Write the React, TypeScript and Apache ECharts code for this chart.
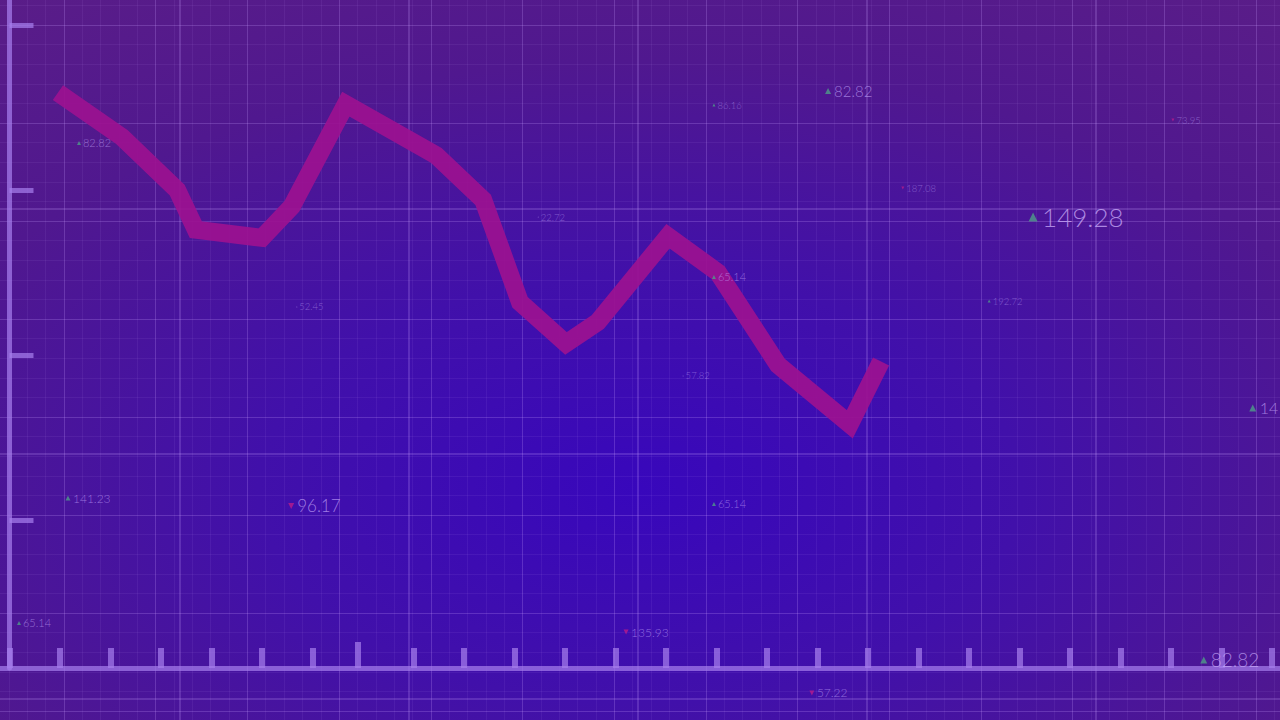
import React, { useEffect, useRef } from "react";
import * as echarts from "echarts";

// Main line (x: tick index along bottom axis, y: units of left-axis tick spacing)
const LINE_X = [0.96, 2.23, 3.32, 3.69, 5.0, 5.59, 6.66, 8.45, 9.38, 10.11, 11.02, 11.65, 13.04, 14.03, 15.22, 16.64, 17.26];
const LINE_Y = [3.59, 3.32, 3.0, 2.76, 2.71, 2.9, 3.52, 3.21, 2.94, 2.32, 2.07, 2.2, 2.72, 2.5, 1.94, 1.58, 1.96];

const X_TICKS = [0, 1, 2, 3, 4, 5, 6, 8, 9, 10, 11, 12, 13, 14, 15, 16, 17, 18, 19, 20, 21, 22, 23, 24, 25];
const X_TALL_TICKS = [6.9];
const Y_TICKS = [1, 2, 3, 4];

// Floating value labels: [x, y, text, direction (1 up, -1 down, 0 none)]
const LABELS_XL: [number, number, string, number][] = [[20.27, 2.836, "149.28", 1]];
const LABELS_L: [number, number, string, number][] = [[23.65, 0.152, "82.82", 1]];
const LABELS_EDGE: [number, number, string, number][] = [[24.62, 1.679, "14", 1]];
const LABELS_M: [number, number, string, number][] = [[5.578, 1.085, "96.17", -1]];
const LABELS_MS: [number, number, string, number][] = [[16.21, 3.6, "82.82", 1]];
const LABELS_S: [number, number, string, number][] = [
  [1.158, 1.133, "141.23", 1],
  [12.21, 0.321, "135.93", -1],
  [15.89, -0.048, "57.22", -1],
];
const LABELS_XS: [number, number, string, number][] = [
  [1.376, 3.285, "82.82", 1],
  [13.95, 2.473, "65.14", 1],
  [13.95, 1.097, "65.14", 1],
  [0.188, 0.376, "65.14", 1],
];
const LABELS_XXS: [number, number, string, number][] = [
  [13.95, 3.515, "86.16", 1],
  [23.04, 3.424, "73.95", -1],
  [17.69, 3.012, "187.08", -1],
  [19.4, 2.327, "192.72", 1],
  [10.47, 2.836, "22.72", 0],
  [5.69, 2.291, "52.45", 0],
  [13.34, 1.873, "57.82", 0],
];

const AXIS_COLOR = "rgba(165,125,235,0.72)";
const UP_COLOR = "#4f9c88";
const DOWN_COLOR = "#b81c8c";

function labelSeries(
  items: [number, number, string, number][],
  fontSize: number,
  markerSize: number,
  textColor: string
) {
  return {
    type: "scatter",
    xAxisIndex: 0,
    yAxisIndex: 0,
    clip: false,
    z: 5,
    silent: true,
    data: items.map(([x, y, text, dir]) => ({
      value: [x, y],
      name: text,
      symbol: dir === 0 ? "circle" : "triangle",
      symbolSize: dir === 0 ? 1 : markerSize,
      symbolRotate: dir === -1 ? 180 : 0,
      itemStyle: { color: dir === 1 ? UP_COLOR : dir === -1 ? DOWN_COLOR : textColor },
    })),
    label: {
      show: true,
      position: "right",
      distance: Math.max(2, markerSize * 0.5),
      formatter: "{b}",
      color: textColor,
      fontSize,
      fontFamily: "Lato",
      fontWeight: 300,
    },
  };
}

export default function App() {
  const ref = useRef<HTMLDivElement>(null);

  useEffect(() => {
    if (!ref.current) return;
    const chart = echarts.init(ref.current, undefined, { renderer: "svg" });

    const hidden = {
      axisLine: { show: false },
      axisTick: { show: false },
      axisLabel: { show: false },
    };

    const option: any = {
      animation: false,
      graphic: [
        {
          type: "rect",
          z: -100,
          silent: true,
          shape: { x: 0, y: 0, width: 1280, height: 720 },
          style: {
            fill: new echarts.graphic.RadialGradient(0.5, 0.68, 0.85, [
              { offset: 0, color: "#3807bc" },
              { offset: 0.35, color: "#4110aa" },
              { offset: 0.7, color: "#50188f" },
              { offset: 1, color: "#5a1d88" },
            ]),
          },
        },
      ],
      grid: [
        { left: 0, top: 0, width: 1280, height: 668, outerBoundsMode: "none" },
        { left: -27.7, top: -73, width: 1375.5, height: 882, outerBoundsMode: "none" },
        { left: -49, top: -36, width: 1374, height: 980, outerBoundsMode: "none" },
        { left: 0, top: 0, width: 1280, height: 668, outerBoundsMode: "none" },
      ],
      xAxis: [
        {
          gridIndex: 0,
          type: "value",
          min: -0.188,
          max: 25.16,
          axisLine: { show: true, onZero: false, lineStyle: { color: AXIS_COLOR, width: 5 } },
          axisTick: {
            show: true,
            inside: true,
            length: 20,
            customValues: X_TICKS,
            lineStyle: { color: AXIS_COLOR, width: 6 },
          },
          axisLabel: { show: false },
          splitLine: { show: false },
        },
        {
          gridIndex: 1,
          type: "value",
          min: 0,
          max: 15,
          interval: 1,
          ...hidden,
          splitLine: { show: true, lineStyle: { color: "rgba(200,160,255,0.24)", width: 1 } },
          minorTick: { show: false, splitNumber: 5 },
          minorSplitLine: { show: true, lineStyle: { color: "rgba(200,160,255,0.08)", width: 1 } },
        },
        {
          gridIndex: 2,
          type: "value",
          min: 0,
          max: 6,
          interval: 1,
          ...hidden,
          splitLine: { show: true, lineStyle: { color: "rgba(205,165,255,0.28)", width: 1.5 } },
        },
        {
          gridIndex: 3,
          type: "value",
          position: "bottom",
          min: -0.188,
          max: 25.16,
          axisLine: { show: false, onZero: false },
          axisTick: {
            show: true,
            inside: true,
            length: 26,
            customValues: X_TALL_TICKS,
            lineStyle: { color: AXIS_COLOR, width: 6 },
          },
          axisLabel: { show: false },
          splitLine: { show: false },
        },
      ],
      yAxis: [
        {
          gridIndex: 0,
          type: "value",
          min: 0.10303,
          max: 4.1515,
          axisLine: { show: true, onZero: true, lineStyle: { color: AXIS_COLOR, width: 5 } },
          axisTick: {
            show: true,
            inside: true,
            length: 24,
            customValues: Y_TICKS,
            lineStyle: { color: AXIS_COLOR, width: 5 },
          },
          axisLabel: { show: false },
          splitLine: { show: false },
        },
        {
          gridIndex: 1,
          type: "value",
          min: 0,
          max: 9,
          interval: 1,
          ...hidden,
          splitLine: { show: true, lineStyle: { color: "rgba(200,160,255,0.24)", width: 1 } },
          minorTick: { show: false, splitNumber: 5 },
          minorSplitLine: { show: true, lineStyle: { color: "rgba(200,160,255,0.08)", width: 1 } },
        },
        {
          gridIndex: 2,
          type: "value",
          min: 0,
          max: 4,
          interval: 1,
          ...hidden,
          splitLine: { show: true, lineStyle: { color: "rgba(205,165,255,0.28)", width: 1.5 } },
        },
        {
          gridIndex: 3,
          type: "value",
          min: 0,
          max: 1,
          show: false,
        },
      ],
      series: [
        {
          type: "line",
          xAxisIndex: 0,
          yAxisIndex: 0,
          data: LINE_X.map((x, i) => [x, LINE_Y[i]]),
          symbol: "none",
          z: 4,
          lineStyle: {
            color: "#9c1190",
            opacity: 0.92,
            width: 18,
            cap: "butt",
            join: "miter",
          },
        },
        labelSeries(LABELS_XL, 26, 9, "rgba(210,180,255,0.9)"),
        labelSeries(LABELS_L, 19, 7, "rgba(205,175,255,0.85)"),
        labelSeries(LABELS_EDGE, 16, 7, "rgba(205,175,255,0.85)"),
        labelSeries(LABELS_M, 17, 6, "rgba(205,175,255,0.85)"),
        labelSeries(LABELS_MS, 15, 6, "rgba(200,170,255,0.8)"),
        labelSeries(LABELS_S, 12, 5, "rgba(200,170,255,0.75)"),
        labelSeries(LABELS_XS, 11, 4, "rgba(195,165,250,0.75)"),
        labelSeries(LABELS_XXS, 9.5, 3, "rgba(190,160,245,0.65)"),
      ],
    };

    chart.setOption(option);
    return () => chart.dispose();
  }, []);

  return (
    <div
      ref={ref}
      style={{ position: "absolute", left: 0, top: 0, width: 1280, height: 720 }}
    />
  );
}
